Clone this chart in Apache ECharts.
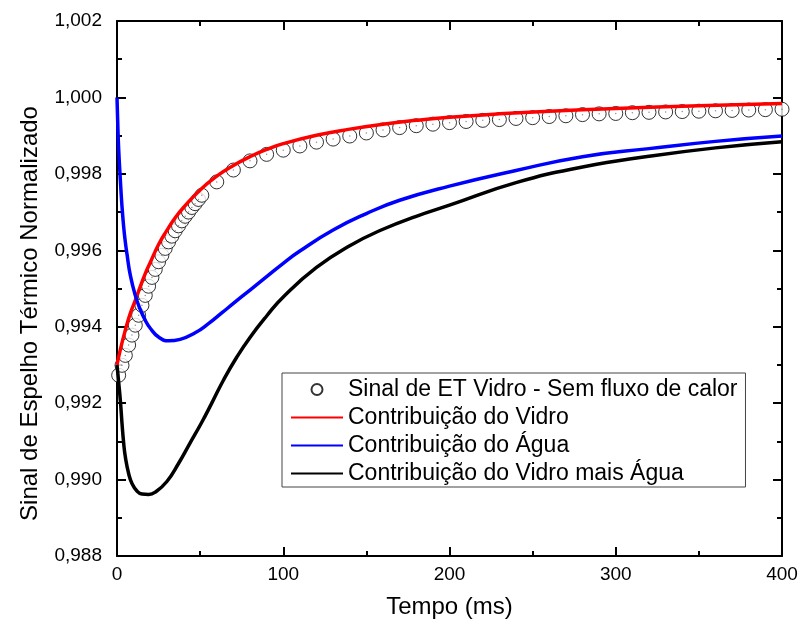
<!DOCTYPE html>
<html><head><meta charset="utf-8">
<script src="https://cdn.jsdelivr.net/npm/echarts@6/dist/echarts.min.js"></script>
<style>html,body{margin:0;padding:0;background:#fff}#c{width:801px;height:633px}</style>
</head><body><div id="c"></div>
<script>
// ---- data ----
const sinalT = [1,3,5,7,9,11,13,15,17,19,21,23,25,27,29,31,33,35,37,39,41,43,45,47,49,51,
  60,70,80,90,100,110,120,130,140,150,160,170,180,190,200,210,220,230,240,250,260,270,280,290,300,310,320,330,340,350,360,370,380,390,400];
const sinalV = [0.99273,0.99299,0.99325,0.99352,0.99378,0.99404,0.99430,0.99456,0.99482,0.99506,0.99529,0.99550,0.99570,0.99587,0.99605,0.99622,0.99637,0.99651,0.99664,0.99677,0.99689,0.99700,0.99712,0.99722,0.99733,0.99744,
  0.99779,0.99810,0.99834,0.99851,0.99862,0.99873,0.99883,0.99891,0.99899,0.99907,0.99915,0.99921,0.99926,0.99930,0.99934,0.99937,0.99940,0.99942,0.99945,0.99947,0.99950,0.99952,0.99955,0.99957,0.99958,0.99960,0.99961,0.99962,0.99963,0.99964,0.99965,0.99966,0.99967,0.99968,0.99969];

const vidroT = [0,2,5,8,11,14,17,20,25,30,35,40,50,60,70,80,90,100,120,140,160,180,200,230,260,300,350,400];
const vidroV = [0.99300,0.99340,0.99391,0.99435,0.99469,0.99505,0.99539,0.99568,0.99615,0.99652,0.99685,0.99712,0.99758,0.99794,0.99822,0.99845,0.99864,0.99879,0.99901,0.99917,0.99930,0.99940,0.99948,0.99957,0.99964,0.99971,0.99978,0.99984];

const aguaT = [0,0.5,1,2,3,4,5,6,8,11,14,17,20,25,31,38,47,55,63,70,80,90,100,110,130,150,170,200,240,280,320,360,400];
const aguaV = [1.00000,0.99925,0.99865,0.99785,0.99715,0.99662,0.99622,0.99590,0.99535,0.99482,0.99445,0.99417,0.99396,0.99373,0.99363,0.99367,0.99384,0.99408,0.99436,0.99461,0.99496,0.99531,0.99566,0.99598,0.99653,0.99696,0.99731,0.99768,0.99809,0.99845,0.99866,0.99885,0.99899];

const somaT = [0,1,2,3,4,5,7,9,12,15,19,23,30,37,44,51,57,64,72,80,90,100,120,140,160,180,200,240,280,320,360,400];
const somaV = [0.99300,0.99255,0.99208,0.99148,0.99096,0.99060,0.99016,0.98990,0.98970,0.98962,0.98961,0.98967,0.98995,0.99042,0.99096,0.99150,0.99200,0.99260,0.99320,0.99372,0.99428,0.99478,0.99555,0.99612,0.99655,0.99689,0.99718,0.99777,0.99818,0.99846,0.99868,0.99884];

const seriesNames = ['Sinal de ET Vidro - Sem fluxo de calor','Contribuição do Vidro','Contribuição do Água','Contribuição do Vidro mais Água'];
const xName = 'Tempo (ms)';
const yName = 'Sinal de Espelho Térmico Normalizado';
const xMin = 0, xMax = 400, xStep = 100;
const yMin = 0.988, yMax = 1.002, yStep = 0.002;

// ---- chart ----
const pairs = (t, v) => t.map((x, i) => [x, v[i]]);
const FONT = '"Liberation Sans", Arial, sans-serif';
const axisCommon = {
  axisLine: {show: true, onZero: false, lineStyle: {color: '#000', width: 2}},
  axisTick: {show: true, inside: true, length: 9, lineStyle: {color: '#000', width: 2}},
  minorTick: {show: true, splitNumber: 2, length: 5, lineStyle: {color: '#000', width: 2}},
  splitLine: {show: false}
};
const chart = echarts.init(document.getElementById('c'), null, {renderer: 'canvas'});
chart.setOption({
  animation: false,
  backgroundColor: '#fff',
  textStyle: {fontFamily: FONT},
  grid: {left: 117, right: 19, top: 21, bottom: 77, containLabel: false},
  xAxis: [
    Object.assign({}, axisCommon, {
      type: 'value', min: xMin, max: xMax, interval: xStep, position: 'bottom',
      name: xName, nameLocation: 'middle', nameGap: 39,
      nameTextStyle: {fontFamily: FONT, fontSize: 24, color: '#000'},
      axisLabel: {fontFamily: FONT, fontSize: 19, color: '#000', margin: 9}
    }),
    Object.assign({}, axisCommon, {
      type: 'value', min: xMin, max: xMax, interval: xStep, position: 'top',
      axisLabel: {show: false}
    })
  ],
  yAxis: [
    Object.assign({}, axisCommon, {
      type: 'value', min: yMin, max: yMax, interval: yStep, position: 'left',
      name: yName, nameLocation: 'middle', nameGap: 75,
      nameTextStyle: {fontFamily: FONT, fontSize: 24, color: '#000', padding: [0, 50, 0, 0]},
      axisLabel: {fontFamily: FONT, fontSize: 19, color: '#000', margin: 15,
        formatter: v => v.toFixed(3).replace('.', ',')}
    }),
    Object.assign({}, axisCommon, {
      type: 'value', min: yMin, max: yMax, interval: yStep, position: 'right',
      axisLabel: {show: false}
    })
  ],
  legend: {
    left: 282, top: 373, orient: 'vertical',
    padding: [5, 8, 2, 8],
    itemGap: 5, itemWidth: 52, itemHeight: 11,
    backgroundColor: '#fff', borderColor: '#444', borderWidth: 1,
    textStyle: {fontFamily: FONT, fontSize: 23, color: '#000', lineHeight: 23},
    data: [
      {name: seriesNames[0]},
      {name: seriesNames[1], itemStyle: {opacity: 0}},
      {name: seriesNames[2], itemStyle: {opacity: 0}},
      {name: seriesNames[3], itemStyle: {opacity: 0}}
    ]
  },
  series: [
    {name: seriesNames[0], type: 'scatter', data: pairs(sinalT, sinalV), symbol: 'circle', symbolSize: 14,
      itemStyle: {color: '#fff', borderColor: '#000', borderWidth: 1}, z: 2},
    {name: 'dot', type: 'scatter', data: pairs(sinalT, sinalV), symbol: 'circle', symbolSize: 1.5, silent: true,
      itemStyle: {color: '#777'}, z: 3},
    {name: seriesNames[1], type: 'line', data: pairs(vidroT, vidroV), showSymbol: false, symbol: 'none', smooth: 0.5,
      lineStyle: {color: '#ff0000', width: 3.5}, itemStyle: {color: '#ff0000'}, z: 5},
    {name: seriesNames[2], type: 'line', data: pairs(aguaT, aguaV), showSymbol: false, symbol: 'none', smooth: 0.5,
      lineStyle: {color: '#0000ff', width: 3.5}, itemStyle: {color: '#0000ff'}, z: 5},
    {name: seriesNames[3], type: 'line', data: pairs(somaT, somaV), showSymbol: false, symbol: 'none', smooth: 0.5,
      lineStyle: {color: '#000', width: 3.5}, itemStyle: {color: '#000'}, z: 5}
  ]
});
</script></body></html>
